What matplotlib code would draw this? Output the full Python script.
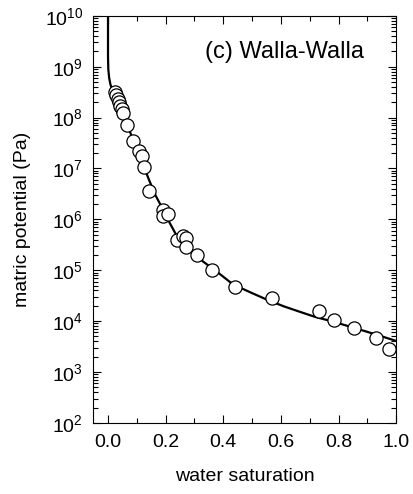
import numpy as np
import matplotlib
matplotlib.use("Agg")
import matplotlib.pyplot as plt
from matplotlib.ticker import LogLocator, MultipleLocator

plt.rcParams["font.family"] = ["Liberation Sans", "DejaVu Sans"]
plt.rcParams["mathtext.fontset"] = "custom"
plt.rcParams["mathtext.rm"] = "Liberation Sans"
plt.rcParams["mathtext.it"] = "Liberation Sans:italic"
plt.rcParams["mathtext.bf"] = "Liberation Sans:bold"

# measured points: water saturation vs matric potential (Pa)
saturation = [0.024, 0.028, 0.033, 0.038, 0.042, 0.047, 0.052, 0.066, 0.088, 0.108,
              0.118, 0.125, 0.142, 0.192, 0.190, 0.209, 0.241, 0.261, 0.270, 0.271,
              0.308, 0.361, 0.439, 0.570, 0.733, 0.785, 0.854, 0.930, 0.976]
potential = [3.2e8, 2.74e8, 2.34e8, 2.0e8, 1.71e8, 1.46e8, 1.22e8, 7.2e7, 3.5e7, 2.16e7,
             1.78e7, 1.08e7, 3.56e6, 1.55e6, 1.14e6, 1.27e6, 3.97e5, 4.6e5, 4.3e5, 2.86e5,
             1.99e5, 1.02e5, 4.7e4, 2.8e4, 1.6e4, 1.07e4, 7.3e3, 4.66e3, 2.83e3]

# fitted retention curve (log10 of potential)
fit_saturation = [0.000, 0.000, 0.001, 0.004, 0.008, 0.013, 0.018, 0.030, 0.042, 0.056,
                  0.069, 0.094, 0.122, 0.142, 0.165, 0.191, 0.215, 0.240, 0.285, 0.330,
                  0.378, 0.434, 0.500, 0.552, 0.610, 0.667, 0.720, 0.781, 0.840, 0.899,
                  0.950, 1.000]
fit_log_potential = [10.3, 9.2, 8.95, 8.78, 8.66, 8.57, 8.50, 8.37, 8.25, 8.03,
                     7.82, 7.47, 7.07, 6.78, 6.47, 6.19, 5.92, 5.66, 5.40, 5.17,
                     4.97, 4.72, 4.55, 4.42, 4.29, 4.18, 4.08, 3.99, 3.89, 3.79,
                     3.70, 3.61]

figure, axes = plt.subplots(figsize=(4.14, 4.94), dpi=100)
figure.subplots_adjust(left=0.224, right=0.957, top=0.968, bottom=0.144)

axes.plot(fit_saturation, 10 ** np.array(fit_log_potential), color="black", linewidth=1.6, zorder=2)
axes.plot(saturation, potential, linestyle="none", marker="o", markersize=9.5,
          markerfacecolor="white", markeredgecolor="black", markeredgewidth=0.9, zorder=3)

axes.set_yscale("log")
axes.set_xlim(-0.053, 1.0)
axes.set_ylim(1e2, 1e10)
axes.xaxis.set_major_locator(MultipleLocator(0.2))
axes.xaxis.set_minor_locator(MultipleLocator(0.1))
axes.yaxis.set_major_locator(LogLocator(base=10, numticks=20))
axes.yaxis.set_minor_locator(LogLocator(base=10, subs=np.arange(2, 10), numticks=20))
axes.tick_params(which="both", direction="in", top=True, right=True, labelsize=14)
axes.tick_params(axis="x", pad=8)
axes.tick_params(axis="y", pad=7)
axes.tick_params(which="major", length=6, width=0.8)
axes.tick_params(which="minor", length=3.5, width=0.8)
for spine in axes.spines.values():
    spine.set_linewidth(0.8)

axes.set_xlabel("water saturation", fontsize=14, labelpad=12)
axes.set_ylabel("matric potential (Pa)", fontsize=14, labelpad=10)
axes.text(0.370, 0.911, "(c) Walla-Walla", transform=axes.transAxes, fontsize=17,
          ha="left", va="center")

figure.savefig("out.png", dpi=100)
